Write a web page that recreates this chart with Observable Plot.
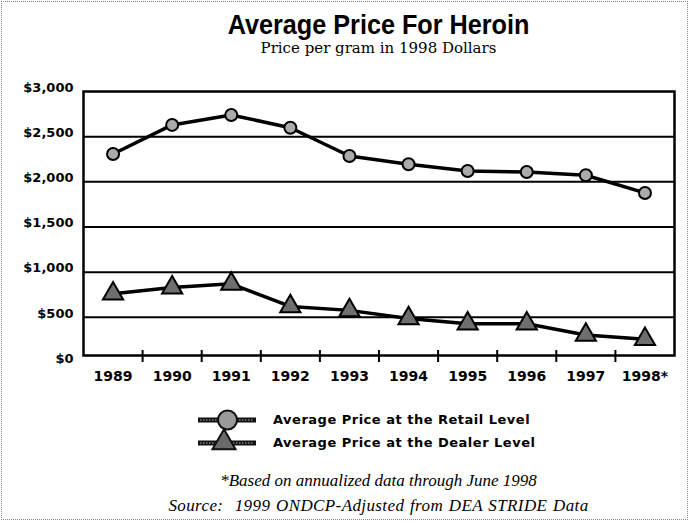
<!DOCTYPE html>
<html>
<head>
<meta charset="utf-8">
<script src="https://cdn.jsdelivr.net/npm/d3@7"></script>
<script src="https://cdn.jsdelivr.net/npm/@observablehq/plot@0.6"></script>
<style>
  body { margin: 0; background: #fff; }
  #wrap { position: relative; width: 689px; height: 522px; overflow: hidden; background: #fff; }
  #border { position: absolute; left: 1px; top: 1px; right: 1px; bottom: 2px; border: 1px dotted #8a8a8a; pointer-events: none; }
  #title { position: absolute; left: 83px; width: 591px; top: 9px; text-align: center;
    font-family: "Liberation Sans", Arial, sans-serif;
    font-weight: bold; font-size: 28px; line-height: 32px; color: #000; white-space: nowrap; }
  #title span { display: inline-block; transform: scaleX(0.9); transform-origin: center; }
  #subtitle { position: absolute; left: 83px; width: 591px; top: 39px; text-align: center;
    font-family: "DejaVu Serif", "Liberation Serif", serif; font-size: 15px; line-height: 18px; color: #000; white-space: nowrap; }
  #chart { position: absolute; left: 0; top: 60px; }
  #legend { position: absolute; left: 0; top: 400px; }
  .cap { position: absolute; left: 83px; width: 591px; text-align: center;
    font-family: "Liberation Serif", "DejaVu Serif", serif; font-style: italic; font-size: 17px; line-height: 25px; color: #000; white-space: pre; }
  #cap1 { top: 468px; }
  #cap2 { top: 493px; letter-spacing: 0.4px; word-spacing: 1px; }
</style>
</head>
<body>
<div id="wrap">
  <div id="title"><span>Average Price For Heroin</span></div>
  <div id="subtitle">Price per gram in 1998 Dollars</div>
  <div id="chart"></div>
  <div id="legend"></div>
  <div id="cap1" class="cap"></div>
  <div id="cap2" class="cap"></div>
  <div id="border"></div>
</div>
<script>
// ---- data ----
const years = [1989, 1990, 1991, 1992, 1993, 1994, 1995, 1996, 1997, 1998];
const yearLabels = ["1989", "1990", "1991", "1992", "1993", "1994", "1995", "1996", "1997", "1998*"];
const retailPrice = [2308, 2630, 2740, 2599, 2286, 2194, 2120, 2109, 2073, 1877];
const dealerPrice = [761, 829, 871, 621, 577, 487, 430, 430, 305, 257];
const yTicks = [0, 500, 1000, 1500, 2000, 2500, 3000];
const gridValues = [500, 1000, 1500, 2000, 2500];
const yearBoundaries = [1989.5, 1990.5, 1991.5, 1992.5, 1993.5, 1994.5, 1995.5, 1996.5, 1997.5];
const seriesNames = ["Average Price at the Retail Level", "Average Price at the Dealer Level"];
const captionLines = ["*Based on annualized data through June 1998", "Source:  1999 ONDCP-Adjusted from DEA STRIDE Data"];

const retail = years.map((year, i) => ({year, value: retailPrice[i]}));
const dealer = years.map((year, i) => ({year, value: dealerPrice[i]}));

const fmt = d3.format("$,");

const chart = Plot.plot({
  width: 689,
  height: 335,
  marginTop: 31,
  marginBottom: 40,
  marginLeft: 83,
  marginRight: 15,
  x: {domain: [1988.5, 1998.5]},
  y: {domain: [0, 3000], range: [302, 31]},
  style: {background: "transparent", fontFamily: "'DejaVu Sans', sans-serif", fontSize: "13px", fontWeight: "bold", color: "#000", overflow: "visible"},
  marks: [
    Plot.frame({fill: "#fff"}),
    Plot.ruleY(gridValues, {stroke: "#000", strokeWidth: 2}),
    Plot.frame({stroke: "#000", strokeWidth: 2.5}),
    Plot.axisY(yTicks, {tickSize: 0, tickPadding: 10, tickFormat: fmt, dy: -4, label: null, fontWeight: "bold", fontSize: 13}),
    Plot.axisX(yearBoundaries, {tickSize: 12, dy: -5, tickFormat: () => "", label: null, strokeWidth: 2}),
    Plot.axisX(years, {tickSize: 0, tickPadding: 16, tickFormat: (d) => yearLabels[years.indexOf(d)], label: null, fontWeight: "bold", fontSize: 14}),
    Plot.line(retail, {x: "year", y: "value", stroke: "#000", strokeWidth: 3.5}),
    Plot.dot(retail, {x: "year", y: "value", r: 6, fill: "#ababab", stroke: "#000", strokeWidth: 2}),
    Plot.line(dealer, {x: "year", y: "value", stroke: "#000", strokeWidth: 3.5}),
    Plot.dot(dealer, {x: "year", y: "value", symbol: "triangle", r: 7.5, fill: "#6e6e6e", stroke: "#000", strokeWidth: 2})
  ]
});
document.getElementById("chart").appendChild(chart);

// ---- legend ----
const leg = d3.select("#legend").append("svg").attr("width", 689).attr("height", 62);
const rows = [{y: 20, shape: "circle"}, {y: 43, shape: "triangle"}];
rows.forEach((row, i) => {
  const g = leg.append("g");
  g.append("line").attr("x1", 198).attr("x2", 256).attr("y1", row.y).attr("y2", row.y)
    .attr("stroke", "#111").attr("stroke-width", 5);
  g.append("line").attr("x1", 200).attr("x2", 254).attr("y1", row.y).attr("y2", row.y)
    .attr("stroke", "#bbb").attr("stroke-width", 1).attr("stroke-dasharray", "1.5 1.5");
  if (row.shape === "circle") {
    g.append("circle").attr("cx", 227.5).attr("cy", row.y).attr("r", 9.5)
      .attr("fill", "#9a9a9a").attr("stroke", "#111").attr("stroke-width", 2);
  } else {
    g.append("path").attr("d", d3.symbol(d3.symbolTriangle, 230)()).attr("transform", `translate(224,${row.y - 0.5})`)
      .attr("fill", "#6a6a6a").attr("stroke", "#111").attr("stroke-width", 2);
  }
  g.append("text").attr("x", 273).attr("y", row.y + 3.5).text(seriesNames[i])
    .attr("font-family", "'DejaVu Sans', sans-serif").attr("font-weight", "bold").attr("font-size", 13)
    .attr("letter-spacing", 0.5).attr("fill", "#000");
});

document.getElementById("cap1").textContent = captionLines[0];
document.getElementById("cap2").textContent = captionLines[1];
</script>
</body>
</html>
